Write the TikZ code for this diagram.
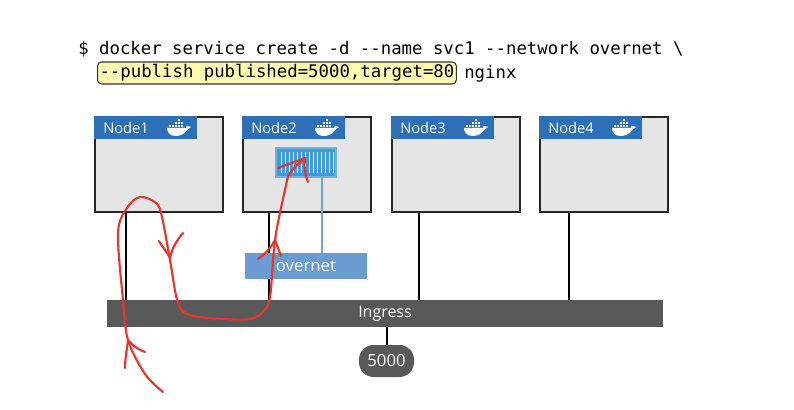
\documentclass[tikz,border=0pt]{standalone}
\usepackage{fontspec}
\setmainfont{Open Sans}
\setmonofont{DejaVu Sans Mono}
\usetikzlibrary{positioning, calc}
\definecolor{headblue}{HTML}{2E70B8}
\definecolor{boxgray}{HTML}{E5E5E5}
\definecolor{netblue}{HTML}{6A9BD2}
\definecolor{linkblue}{HTML}{6FA3DB}
\definecolor{shipblue}{HTML}{3F9ADC}
\definecolor{bargray}{HTML}{595959}
\definecolor{markyellow}{HTML}{FFF8B0}
\definecolor{penred}{HTML}{E8352A}
\tikzset{
  hostbox/.style={draw=black!85, line width=1.2pt, fill=boxgray, minimum width=96pt, minimum height=71.25pt, anchor=north west, inner sep=0pt},
  hosthead/.style={fill=headblue, text=white, font=\fontsize{11}{13}\selectfont, anchor=north west, inner xsep=6.75pt, inner ysep=0pt, text width=63.75pt, minimum height=17.25pt, align=left},
  barbox/.style={fill=bargray, text=white, font=\fontsize{12}{14}\selectfont, inner sep=0pt},
  netbox/.style={fill=netblue, text=white, font=\fontsize{12.6}{14}\selectfont, inner sep=0pt, minimum width=91.5pt, minimum height=19.5pt},
  wire/.style={draw=black, line width=1.5pt},
  penstroke/.style={draw=penred, line width=1.6pt, line cap=round, line join=round},
  cmdtext/.style={inner sep=0pt, font=\ttfamily\fontsize{13}{15}\selectfont},
  whale/.pic={
    \fill[white] (-12,1) -- (7,1) .. controls (7,-1) and (8,-2) .. (9,-1) .. controls (10,-1) and (11,-1) .. (12,0) .. controls (10,2) and (9,2) .. (8,3) .. controls (5,8) and (0,9) .. (-4,9) .. controls (-9,9) and (-12,5) .. (-12,1) -- cycle;
    \foreach \bx/\by in {-10/-2, -7/-2, -4/-2, -1/-2, 2/-2, -4/-5, -1/-5, 2/-5, -1/-8}
      \fill[white] (\bx,\by) rectangle ++(2.4,2.4);
  },
}
\begin{document}
\begin{tikzpicture}[x=0.75pt, y=-0.75pt]
\useasboundingbox[fill=white] (0,0) rectangle (794,410);

% Command lines
\node[cmdtext, anchor=base west] (cmdline) at (78,55) {\$ docker service create -d --name svc1 --network overnet \textbackslash};
\node[cmdtext, draw=black!80, fill=markyellow, rounded corners=3pt, line width=0.8pt, anchor=west, inner xsep=1.5pt, minimum height=16.5pt] (publish) at (97,73) {--publish published=5000,target=80};
\node[cmdtext, anchor=base west] (image) at (464,79) {nginx};

% Ingress bar and published port
\node[barbox, minimum width=417pt, minimum height=20.25pt] (ingress) at (385,313.5) {Ingress};
\node[barbox, font=\fontsize{12.5}{14}\selectfont, rounded corners=11pt, minimum width=41.25pt, minimum height=24pt] (port) at (386.5,361) {5000};
\draw[wire] (ingress.south -| port.north) -- (port.north);

% Hosts
\foreach \n/\x/\tap in {1/94/126, 2/242/269, 3/391/419, 4/539/569} {
  \node[hostbox] (node\n) at (\x,116) {};
  \node[hosthead] (head\n) at (\x,116) {Node\n};
  \pic at (\x+85,127) {whale};
  \coordinate (tap\n) at (\tap,300);
  \draw[wire] (tap\n) -- (tap\n |- node\n.south);
}

% Container on Node2
\node[fill=shipblue, draw=shipblue!75!white, line width=0.8pt, minimum width=45pt, minimum height=21.75pt, inner sep=0pt] (task) at (306,162.5) {};
\foreach \x in {281,285,...,333} {
  \draw[white, line width=0.75pt] (\x,152) -- (\x,173);
}

% Overlay network
\node[netbox] (overnet) at (306,266) {overnet};
\coordinate (vlan) at (322,253);
\draw[linkblue, line width=1.4pt] (vlan) -- (vlan |- task.south);

% Red pen strokes
\draw[penstroke] plot[smooth, tension=0.55] coordinates {(163,392) (145,374) (128,340) (123,300) (118,233) (127,208) (140,197) (156,203) (162,217) (170,260) (178,303) (190,315) (223,319) (250,319) (263,312) (270,297) (275,240) (285,190) (290,173) (305,158)};
\draw[penstroke] (278,168) -- (305,158) .. controls (304,168) and (305,175) .. (308,182);
\draw[penstroke] (258,259) .. controls (265,254) and (270,249) .. (275,240) .. controls (277,246) and (279,250) .. (281,256);
\draw[penstroke] (159,241) .. controls (163,248) and (167,252) .. (170,258) .. controls (172,248) and (177,240) .. (183,233);
\draw[penstroke] (125,368) .. controls (125,358) and (127,350) .. (128,340) .. controls (133,346) and (139,350) .. (145,352);
\end{tikzpicture}
\end{document}
